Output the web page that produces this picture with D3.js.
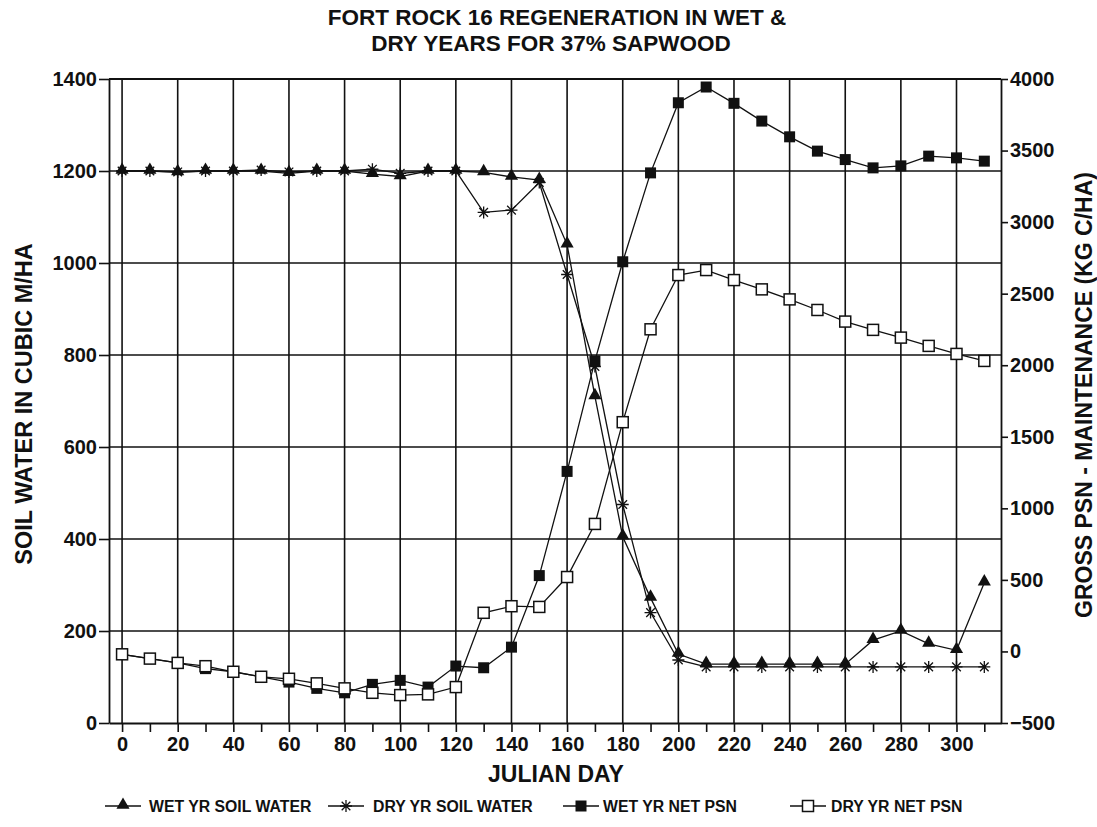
<!DOCTYPE html>
<html>
<head>
<meta charset="utf-8">
<script src="https://cdn.jsdelivr.net/npm/d3@7"></script>
<style>
  html, body { margin: 0; padding: 0; background: #fff; }
  svg text { font-family: "Liberation Sans", Arial, Helvetica, sans-serif; font-weight: bold; fill: #111; }
</style>
</head>
<body>
<svg id="chart" width="1097" height="827"></svg>
<script>
// Julian day of each sample
const days = d3.range(0, 311, 10);

// Soil water, cubic m/ha (left axis)
const wetSoilWater = [1200, 1200, 1197, 1200, 1200, 1200, 1195, 1200, 1200, 1193, 1188, 1200,
  1200, 1197, 1187, 1180, 1040, 710, 405, 272, 150, 128, 128, 128, 128, 128, 128, 180, 200, 172, 158, 305];
const drySoilWater = [1200, 1200, 1198, 1200, 1200, 1202, 1198, 1200, 1200, 1204, 1195, 1200,
  1200, 1110, 1115, 1175, 975, 775, 475, 240, 137, 122, 122, 122, 122, 122, 122, 122, 122, 122, 122, 122];

// Gross PSN - maintenance, kg C/ha (right axis)
const wetNetPsn = [-20, -50, -80, -120, -142, -177, -214, -258, -289, -230, -202, -249,
  -102, -114, 30, 530, 1258, 2030, 2723, 3344, 3834, 3944, 3830, 3706, 3596, 3496, 3437, 3379, 3393, 3461, 3449, 3426];
const dryNetPsn = [-20, -50, -80, -103, -142, -177, -191, -223, -258, -289, -305, -300,
  -249, 270, 316, 311, 520, 891, 1602, 2251, 2630, 2665, 2595, 2530, 2460, 2386, 2305, 2247, 2193, 2135, 2079, 2030];

// Axis ticks
const xTicks = d3.range(0, 311, 10);
const xLabelTicks = d3.range(0, 301, 20);
const leftTicks = d3.range(0, 1401, 200);
const rightTicks = d3.range(-500, 4001, 500);

const titleLines = ["FORT ROCK 16 REGENERATION IN WET &", "DRY YEARS FOR 37% SAPWOOD"];
const seriesNames = ["WET YR SOIL WATER", "DRY YR SOIL WATER", "WET YR NET PSN", "DRY YR NET PSN"];

const svg = d3.select("#chart");
const ink = "#111";
const plain = d3.format("d");

const x = d3.scaleLinear().domain([-4.7, 316]).range([109, 1001]);
const yL = d3.scaleLinear().domain([0, 1400]).range([723, 79]);
const yR = d3.scaleLinear().domain([-500, 4000]).range([723, 79]);

// Grid
const grid = svg.append("g").attr("stroke", ink).attr("stroke-width", 1.6);
grid.selectAll("line.v").data(xLabelTicks).join("line")
  .attr("x1", d => x(d)).attr("x2", d => x(d))
  .attr("y1", yL(0)).attr("y2", yL(1400));
grid.selectAll("line.h").data(leftTicks.filter(d => d > 0)).join("line")
  .attr("x1", x.range()[0]).attr("x2", x.range()[1])
  .attr("y1", d => yL(d)).attr("y2", d => yL(d));

// Axes
function styleAxis(g, size) {
  g.selectAll("path.domain").attr("stroke", ink).attr("stroke-width", 1.8);
  g.selectAll(".tick line").attr("stroke", ink).attr("stroke-width", 1.6);
  g.selectAll(".tick text").attr("font-size", size).attr("fill", ink)
    .attr("font-family", "'Liberation Sans', Arial, sans-serif").attr("font-weight", "bold");
}

const xAxis = svg.append("g").attr("transform", `translate(0,${yL(0)})`)
  .call(d3.axisBottom(x).tickValues(xTicks).tickSize(9).tickSizeOuter(0).tickPadding(5)
    .tickFormat(d => (d % 20 === 0 && d <= 300) ? plain(d) : ""));
styleAxis(xAxis, 20);

const leftAxis = svg.append("g").attr("transform", `translate(${x.range()[0]},0)`)
  .call(d3.axisLeft(yL).tickValues(leftTicks).tickSize(10).tickSizeOuter(0).tickPadding(2).tickFormat(plain));
styleAxis(leftAxis, 20);

const rightAxis = svg.append("g").attr("transform", `translate(${x.range()[1]},0)`)
  .call(d3.axisRight(yR).tickValues(rightTicks).tickSize(7).tickSizeOuter(0).tickPadding(2).tickFormat(plain));
styleAxis(rightAxis, 20);

// Top frame
svg.append("line").attr("x1", x.range()[0]).attr("x2", x.range()[1])
  .attr("y1", yL(1400)).attr("y2", yL(1400)).attr("stroke", ink).attr("stroke-width", 1.8);

// Series lines
const series = [
  { name: seriesNames[0], values: wetSoilWater, y: yL, marker: "triangle" },
  { name: seriesNames[1], values: drySoilWater, y: yL, marker: "star" },
  { name: seriesNames[2], values: wetNetPsn, y: yR, marker: "filled" },
  { name: seriesNames[3], values: dryNetPsn, y: yR, marker: "open" }
];

series.forEach(s => {
  const line = d3.line().x((d, i) => x(days[i])).y(d => s.y(d));
  svg.append("path").datum(s.values).attr("d", line)
    .attr("fill", "none").attr("stroke", ink).attr("stroke-width", 1.3);
});

const starPath = r => `M${-r},0L${r},0M0,${-r}L0,${r}M${-r*0.72},${-r*0.72}L${r*0.72},${r*0.72}M${-r*0.72},${r*0.72}L${r*0.72},${-r*0.72}`;

function drawMarker(g, kind) {
  if (kind === "triangle") {
    g.append("path").attr("d", d3.symbol().type(d3.symbolTriangle).size(75)())
      .attr("transform", "translate(0,-1)").attr("fill", ink);
  } else if (kind === "star") {
    g.append("path").attr("d", starPath(6)).attr("stroke", ink).attr("stroke-width", 1.3).attr("fill", "none");
  } else if (kind === "filled") {
    g.append("rect").attr("x", -5.5).attr("y", -5.5).attr("width", 11).attr("height", 11).attr("fill", ink);
  } else {
    g.append("rect").attr("x", -5.5).attr("y", -5.5).attr("width", 11).attr("height", 11)
      .attr("fill", "#fff").attr("stroke", ink).attr("stroke-width", 1.5);
  }
}

series.forEach(s => {
  s.values.forEach((v, i) => {
    const g = svg.append("g").attr("transform", `translate(${x(days[i])},${s.y(v)})`);
    drawMarker(g, s.marker);
  });
});

// Title
svg.append("text").attr("x", 557).attr("y", 25).attr("text-anchor", "middle")
  .attr("font-size", 22.5).text(titleLines[0]);
svg.append("text").attr("x", 551).attr("y", 51).attr("text-anchor", "middle")
  .attr("font-size", 22.5).text(titleLines[1]);

// Axis titles
svg.append("text").attr("x", 556).attr("y", 782).attr("text-anchor", "middle")
  .attr("font-size", 23).text("JULIAN DAY");
svg.append("text").attr("transform", "translate(32,404) rotate(-90)").attr("text-anchor", "middle")
  .attr("font-size", 23.5).text("SOIL WATER IN CUBIC M/HA");
svg.append("text").attr("transform", "translate(1092,395) rotate(-90)").attr("text-anchor", "middle")
  .attr("font-size", 23).text("GROSS PSN - MAINTENANCE (KG C/HA)");

// Legend
const legendItems = [
  { sx: 123, tx: 149, marker: "triangle" },
  { sx: 346, tx: 373, marker: "star" },
  { sx: 581, tx: 603, marker: "filled" },
  { sx: 808, tx: 831, marker: "open" }
];
legendItems.forEach((d, i) => {
  const g = svg.append("g").attr("transform", `translate(${d.sx},806)`);
  g.append("line").attr("x1", -18).attr("x2", 18).attr("stroke", ink).attr("stroke-width", 1.4);
  drawMarker(g, d.marker);
  svg.append("text").attr("x", d.tx).attr("y", 812).attr("font-size", 15.8).text(seriesNames[i]);
});
</script>
</body>
</html>
